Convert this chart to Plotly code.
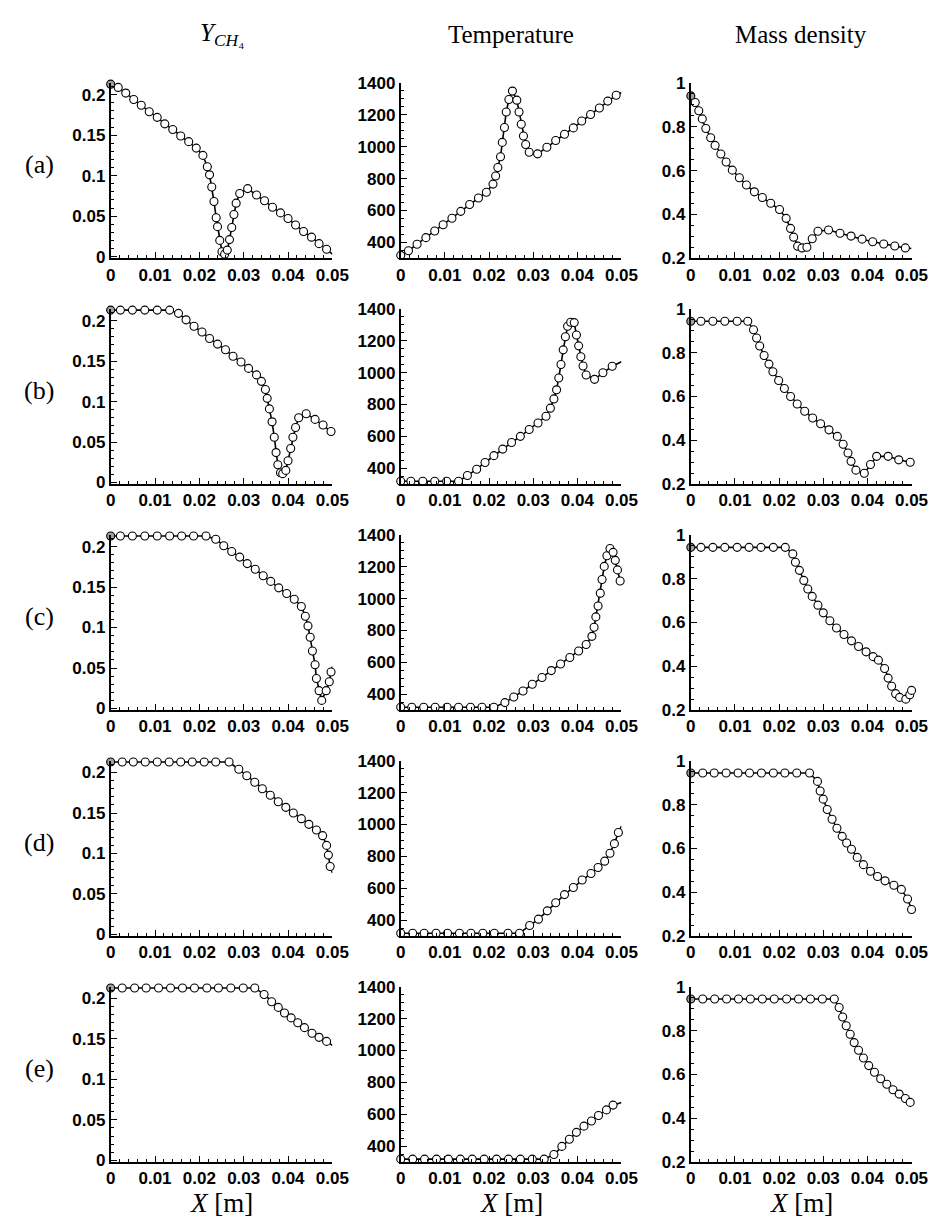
import plotly.graph_objects as go

# ---------------- labels ----------------
row_labels = ["(a)", "(b)", "(c)", "(d)", "(e)"]
col_titles = ["<i>Y</i><sub><i>CH</i>₄</sub>", "Temperature", "Mass density"]
x_title = "<i>X</i> [m]"

x_tickvals = [0, 0.01, 0.02, 0.03, 0.04, 0.05]
x_ticktext = ["0", "0.01", "0.02", "0.03", "0.04", "0.05"]
ych4_tickvals = [0, 0.05, 0.1, 0.15, 0.2]
ych4_ticktext = ["0", "0.05", "0.1", "0.15", "0.2"]
temp_tickvals = [400, 600, 800, 1000, 1200, 1400]
temp_ticktext = ["400", "600", "800", "1000", "1200", "1400"]
rho_tickvals = [0.2, 0.4, 0.6, 0.8, 1.0]
rho_ticktext = ["0.2", "0.4", "0.6", "0.8", "1"]

# ---------------- data: row (a) ----------------
a_ych4_x = [0, 0.0017, 0.0034, 0.0052, 0.0069, 0.0087, 0.0105, 0.0122, 0.0140, 0.0158,
            0.0176, 0.0193, 0.0208, 0.0218, 0.0223, 0.0228, 0.0233, 0.0238, 0.0241, 0.0246,
            0.0251, 0.0257, 0.0263, 0.0268, 0.0273, 0.0278, 0.0283, 0.0291, 0.0309, 0.0329,
            0.0347, 0.0365, 0.0383, 0.0400, 0.0417, 0.0435, 0.0453, 0.0470, 0.0487, 0.0500]
a_ych4 = [0.213, 0.209, 0.202, 0.194, 0.187, 0.179, 0.172, 0.164, 0.157, 0.149,
          0.142, 0.134, 0.125, 0.111, 0.101, 0.086, 0.068, 0.048, 0.037, 0.020,
          0.006, 0.003, 0.008, 0.021, 0.036, 0.052, 0.066, 0.078, 0.084, 0.076,
          0.069, 0.061, 0.054, 0.047, 0.039, 0.031, 0.024, 0.016, 0.009, 0.003]
a_temp_x = [0, 0.00175, 0.0037, 0.0057, 0.0077, 0.0096, 0.0116, 0.0136, 0.0156, 0.0176,
            0.0194, 0.0209, 0.0215, 0.0220, 0.0226, 0.0230, 0.0235, 0.0239, 0.0245, 0.0253,
            0.0263, 0.0268, 0.0273, 0.0278, 0.0283, 0.0291, 0.0310, 0.0331, 0.0351, 0.0371,
            0.0391, 0.0410, 0.0430, 0.0450, 0.0469, 0.0488, 0.0500]
a_temp = [318, 347, 388, 429, 471, 510, 551, 594, 637, 678,
          714, 765, 816, 869, 937, 1027, 1120, 1218, 1296, 1349,
          1292, 1218, 1141, 1067, 1014, 965, 955, 996, 1039, 1078,
          1118, 1161, 1202, 1243, 1286, 1323, 1340]
a_rho_x = [0, 0.0010, 0.0018, 0.0026, 0.0034, 0.0045, 0.0055, 0.0068, 0.0080, 0.0094,
           0.0110, 0.0126, 0.0144, 0.0162, 0.0181, 0.0201, 0.0216, 0.0226, 0.0233, 0.0242,
           0.0252, 0.0263, 0.0275, 0.0288, 0.0312, 0.0338, 0.0363, 0.0388, 0.0412, 0.0437,
           0.0462, 0.0486, 0.0500]
a_rho = [0.941, 0.911, 0.873, 0.836, 0.792, 0.750, 0.715, 0.676, 0.639, 0.602,
         0.567, 0.534, 0.503, 0.477, 0.451, 0.422, 0.382, 0.336, 0.296, 0.255,
         0.247, 0.250, 0.289, 0.323, 0.329, 0.314, 0.301, 0.287, 0.275, 0.265,
         0.256, 0.247, 0.244]

# ---------------- data: row (b) ----------------
b_ych4_x = [0, 0.0022, 0.0049, 0.0077, 0.0105, 0.0133, 0.0153, 0.0170, 0.0188, 0.0206,
            0.0223, 0.0241, 0.0259, 0.0276, 0.0294, 0.0311, 0.0329, 0.0340, 0.0349, 0.0353,
            0.0358, 0.0364, 0.0369, 0.0373, 0.0377, 0.0383, 0.0388, 0.0395, 0.0400, 0.0406,
            0.0411, 0.0417, 0.0424, 0.0441, 0.0461, 0.0479, 0.0497]
b_ych4 = [0.213, 0.213, 0.213, 0.213, 0.213, 0.213, 0.209, 0.201, 0.193, 0.186,
          0.178, 0.171, 0.164, 0.156, 0.149, 0.141, 0.133, 0.125, 0.115, 0.104,
          0.091, 0.075, 0.056, 0.037, 0.022, 0.012, 0.011, 0.015, 0.027, 0.042,
          0.056, 0.068, 0.080, 0.085, 0.078, 0.071, 0.063]
b_temp_x = [0, 0.0023, 0.0050, 0.0077, 0.0104, 0.0131, 0.0151, 0.0172, 0.0191, 0.0211,
            0.0231, 0.0251, 0.0271, 0.0291, 0.0311, 0.0329, 0.0339, 0.0347, 0.0353, 0.0358,
            0.0363, 0.0368, 0.0373, 0.0378, 0.0385, 0.0393, 0.0398, 0.0403, 0.0408, 0.0413,
            0.0420, 0.0439, 0.0458, 0.0479, 0.0500]
b_temp = [318, 318, 318, 318, 318, 318, 354, 394, 436, 479,
          520, 561, 600, 643, 684, 726, 777, 835, 892, 966,
          1051, 1143, 1225, 1291, 1316, 1314, 1236, 1168, 1100, 1042,
          985, 958, 999, 1040, 1068]
b_rho_x = [0, 0.0023, 0.0050, 0.0077, 0.0105, 0.0129, 0.0142, 0.0149, 0.0156, 0.0166,
           0.0177, 0.0186, 0.0199, 0.0212, 0.0226, 0.0241, 0.0258, 0.0276, 0.0294, 0.0313,
           0.0332, 0.0345, 0.0356, 0.0363, 0.0374, 0.0393, 0.0407, 0.0421, 0.0447, 0.0471,
           0.0497]
b_rho = [0.944, 0.944, 0.944, 0.944, 0.944, 0.944, 0.905, 0.867, 0.831, 0.787,
         0.748, 0.713, 0.673, 0.637, 0.600, 0.566, 0.533, 0.502, 0.476, 0.448,
         0.418, 0.382, 0.342, 0.304, 0.264, 0.250, 0.290, 0.327, 0.327, 0.311,
         0.300]

# ---------------- data: row (c) ----------------
c_ych4_x = [0, 0.0022, 0.0049, 0.0077, 0.0105, 0.0133, 0.0160, 0.0187, 0.0215,
            0.0237, 0.0255, 0.0273, 0.0291, 0.0308, 0.0326, 0.0344, 0.0361, 0.0379, 0.0397,
            0.0414, 0.0430, 0.0439, 0.0445, 0.0450, 0.0455, 0.0461, 0.0464, 0.0470, 0.0476,
            0.0486, 0.0493, 0.0497, 0.0500]
c_ych4 = [0.213, 0.213, 0.213, 0.213, 0.213, 0.213, 0.213, 0.213, 0.213,
          0.209, 0.201, 0.194, 0.187, 0.179, 0.172, 0.164, 0.157, 0.149, 0.142,
          0.135, 0.126, 0.114, 0.102, 0.088, 0.071, 0.054, 0.037, 0.022, 0.010,
          0.022, 0.033, 0.045, 0.052]
c_temp_x = [0, 0.0025, 0.0052, 0.0078, 0.0105, 0.0131, 0.0158, 0.0184, 0.0211,
            0.0236, 0.0256, 0.0277, 0.0298, 0.0320, 0.0341, 0.0362, 0.0383, 0.0403, 0.0420,
            0.0433, 0.0438, 0.0442, 0.0447, 0.0452, 0.0456, 0.0461, 0.0467, 0.0474, 0.0481,
            0.0486, 0.0491, 0.0497]
c_temp = [318, 318, 318, 318, 318, 318, 318, 318, 318,
          347, 382, 420, 462, 505, 548, 589, 630, 671, 712,
          763, 820, 885, 953, 1034, 1120, 1202, 1269, 1314, 1290,
          1240, 1180, 1110]
c_rho_x = [0, 0.0023, 0.0050, 0.0077, 0.0105, 0.0132, 0.0159, 0.0187, 0.0214,
           0.0231, 0.0237, 0.0246, 0.0256, 0.0265, 0.0275, 0.0288, 0.0300, 0.0315, 0.0330,
           0.0347, 0.0364, 0.0380, 0.0397, 0.0413, 0.0425, 0.0439, 0.0447, 0.0455, 0.0464,
           0.0473, 0.0487, 0.0496, 0.0500]
c_rho = [0.943, 0.943, 0.943, 0.943, 0.943, 0.943, 0.943, 0.943, 0.943,
         0.913, 0.875, 0.838, 0.792, 0.753, 0.719, 0.679, 0.644, 0.608, 0.575,
         0.545, 0.516, 0.490, 0.466, 0.444, 0.428, 0.390, 0.346, 0.309, 0.275,
         0.258, 0.250, 0.270, 0.290]

# ---------------- data: row (d) ----------------
d_ych4_x = [0, 0.0026, 0.0051, 0.0078, 0.0105, 0.0132, 0.0158, 0.0184, 0.0211, 0.0237, 0.0267,
            0.0289, 0.0307, 0.0325, 0.0342, 0.0360, 0.0378, 0.0395, 0.0412, 0.0430, 0.0447,
            0.0464, 0.0478, 0.0487, 0.0491, 0.0495, 0.0500]
d_ych4 = [0.213, 0.213, 0.213, 0.213, 0.213, 0.213, 0.213, 0.213, 0.213, 0.213, 0.213,
          0.204, 0.196, 0.188, 0.180, 0.172, 0.164, 0.157, 0.150, 0.143, 0.136,
          0.129, 0.122, 0.110, 0.098, 0.084, 0.076]
d_temp_x = [0, 0.0027, 0.0053, 0.0080, 0.0106, 0.0133, 0.0159, 0.0186, 0.0212, 0.0243, 0.0269,
            0.0292, 0.0312, 0.0332, 0.0351, 0.0371, 0.0391, 0.0411, 0.0431, 0.0447, 0.0462,
            0.0474, 0.0484, 0.0493, 0.0500]
d_temp = [318, 318, 318, 318, 318, 318, 318, 318, 318, 318, 318,
          366, 406, 458, 509, 560, 605, 652, 693, 730, 770,
          820, 880, 950, 990]
d_rho_x = [0, 0.0027, 0.0053, 0.0080, 0.0107, 0.0133, 0.0160, 0.0187, 0.0213, 0.0240, 0.0269,
           0.0287, 0.0293, 0.0300, 0.0309, 0.0320, 0.0331, 0.0343, 0.0353, 0.0364, 0.0377,
           0.0391, 0.0407, 0.0423, 0.0440, 0.0460, 0.0477, 0.0491, 0.0500]
d_rho = [0.944, 0.944, 0.944, 0.944, 0.944, 0.944, 0.944, 0.944, 0.944, 0.944, 0.944,
         0.906, 0.862, 0.825, 0.778, 0.733, 0.692, 0.655, 0.625, 0.596, 0.559,
         0.526, 0.496, 0.472, 0.452, 0.432, 0.413, 0.369, 0.321]

# ---------------- data: row (e) ----------------
e_ych4_x = [0, 0.0026, 0.0054, 0.0080, 0.0108, 0.0135, 0.0162, 0.0189, 0.0217, 0.0243, 0.0271, 0.0299, 0.0325,
            0.0346, 0.0363, 0.0378, 0.0392, 0.0407, 0.0422, 0.0437, 0.0454, 0.0470, 0.0487, 0.0500]
e_ych4 = [0.213, 0.213, 0.213, 0.213, 0.213, 0.213, 0.213, 0.213, 0.213, 0.213, 0.213, 0.213, 0.213,
          0.205, 0.196, 0.189, 0.182, 0.176, 0.170, 0.164, 0.157, 0.152, 0.147, 0.142]
e_temp_x = [0, 0.0027, 0.0054, 0.0081, 0.0108, 0.0135, 0.0162, 0.0189, 0.0217, 0.0244, 0.0271, 0.0298, 0.0325,
            0.0347, 0.0365, 0.0382, 0.0398, 0.0415, 0.0432, 0.0448, 0.0466, 0.0481, 0.0500]
e_temp = [318, 318, 318, 318, 318, 318, 318, 318, 318, 318, 318, 318, 318,
          347, 398, 443, 486, 525, 557, 592, 627, 657, 674]
e_rho_x = [0, 0.0027, 0.0054, 0.0081, 0.0108, 0.0135, 0.0162, 0.0189, 0.0217, 0.0244, 0.0271, 0.0298, 0.0325,
           0.0336, 0.0344, 0.0352, 0.0361, 0.0370, 0.0380, 0.0391, 0.0403, 0.0416, 0.0430, 0.0444,
           0.0458, 0.0472, 0.0486, 0.0497]
e_rho = [0.944, 0.944, 0.944, 0.944, 0.944, 0.944, 0.944, 0.944, 0.944, 0.944, 0.944, 0.944, 0.944,
         0.905, 0.862, 0.822, 0.783, 0.745, 0.710, 0.675, 0.640, 0.610, 0.580, 0.555,
         0.530, 0.510, 0.490, 0.472]

panels = [
    [(a_ych4_x, a_ych4), (a_temp_x, a_temp), (a_rho_x, a_rho)],
    [(b_ych4_x, b_ych4), (b_temp_x, b_temp), (b_rho_x, b_rho)],
    [(c_ych4_x, c_ych4), (c_temp_x, c_temp), (c_rho_x, c_rho)],
    [(d_ych4_x, d_ych4), (d_temp_x, d_temp), (d_rho_x, d_rho)],
    [(e_ych4_x, e_ych4), (e_temp_x, e_temp), (e_rho_x, e_rho)],
]
# panels whose curve continues past the last circle (last point is line-only)
line_tail = {(0, 0), (0, 1), (0, 2), (1, 1), (2, 0), (3, 0), (3, 1), (4, 0), (4, 1)}

# ---------------- geometry (pixels) ----------------
W, H = 943, 1227
col_px = [(100, 327), (397, 623), (694, 920)]
row_top = [67, 296.5, 526, 755.5, 985]
row_h = 178

y_specs = [
    dict(range=[-0.002, 0.2145], tickvals=ych4_tickvals, ticktext=ych4_ticktext, minor_dtick=0.01),
    dict(range=[300, 1400], tickvals=temp_tickvals, ticktext=temp_ticktext, minor_dtick=50),
    dict(range=[0.2, 1.0], tickvals=rho_tickvals, ticktext=rho_ticktext, minor_dtick=0.05),
]


def bold(labels):
    return [f"<b>{t}</b>" for t in labels]


tick_font = dict(family="Liberation Sans, Arial, sans-serif", size=17, color="black", weight=700)
serif = "Liberation Serif, Times New Roman, serif"

fig = go.Figure()
layout = {}
for r in range(5):
    for c in range(3):
        i = r * 3 + c + 1
        xs, ys = panels[r][c]
        xa = "x" if i == 1 else f"x{i}"
        ya = "y" if i == 1 else f"y{i}"
        fig.add_trace(go.Scatter(x=xs, y=ys, mode="lines", xaxis=xa, yaxis=ya,
                                 line=dict(color="black", width=1.6), cliponaxis=False,
                                 hoverinfo="skip"))
        n = len(xs) - 1 if (r, c) in line_tail else len(xs)
        fills = ["#a0a0a0" if (k == 0 and c != 1) else "white" for k in range(n)]
        fig.add_trace(go.Scatter(x=xs[:n], y=ys[:n], mode="markers", xaxis=xa, yaxis=ya,
                                 marker=dict(symbol="circle", size=8, color=fills,
                                             line=dict(color="black", width=1.1)),
                                 cliponaxis=False))
        x0, x1 = col_px[c]
        yt = row_top[r]
        yb = yt + row_h
        common = dict(showline=True, linecolor="black", linewidth=1.8, showgrid=False,
                      zeroline=False, ticks="inside", ticklen=6, tickwidth=1.3,
                      tickcolor="black", tickfont=tick_font, tickmode="array",
                      ticklabelstandoff=0)
        kx = "xaxis" if i == 1 else f"xaxis{i}"
        ky = "yaxis" if i == 1 else f"yaxis{i}"
        layout[kx] = dict(domain=[x0 / W, x1 / W], anchor=ya, range=[0, 0.05],
                          tickvals=x_tickvals, ticktext=bold(x_ticktext),
                          minor=dict(dtick=0.002, tick0=0, ticks="inside", ticklen=3,
                                     tickwidth=1, tickcolor="black"),
                          **common)
        s = y_specs[c]
        layout[ky] = dict(domain=[1 - yb / H, 1 - yt / H], anchor=xa, range=s["range"],
                          tickvals=s["tickvals"], ticktext=bold(s["ticktext"]),
                          minor=dict(dtick=s["minor_dtick"], tick0=0, ticks="inside",
                                     ticklen=3, tickwidth=1, tickcolor="black"),
                          **common)

annotations = []
for c, t in enumerate(col_titles):
    xc = (col_px[c][0] + col_px[c][1]) / 2 / W
    annotations.append(dict(text=t, x=xc, y=1 - 18 / H, xref="paper", yref="paper",
                            showarrow=False, xanchor="center", yanchor="middle",
                            font=dict(family=serif, size=25, color="black")))
    annotations.append(dict(text=x_title, x=xc, y=1 - 1205 / H, xref="paper", yref="paper",
                            showarrow=False, xanchor="center", yanchor="middle",
                            font=dict(family=serif, size=27, color="black")))
for r, t in enumerate(row_labels):
    ym = row_top[r] + row_h / 2 - 6
    annotations.append(dict(text=t, x=27 / W, y=1 - ym / H, xref="paper", yref="paper",
                            showarrow=False, xanchor="center", yanchor="middle",
                            font=dict(family=serif, size=26, color="black")))

fig.update_layout(width=W, height=H, margin=dict(l=0, r=0, t=0, b=0),
                  paper_bgcolor="white", plot_bgcolor="white", showlegend=False,
                  annotations=annotations, **layout)
fig.write_html("out.html")
